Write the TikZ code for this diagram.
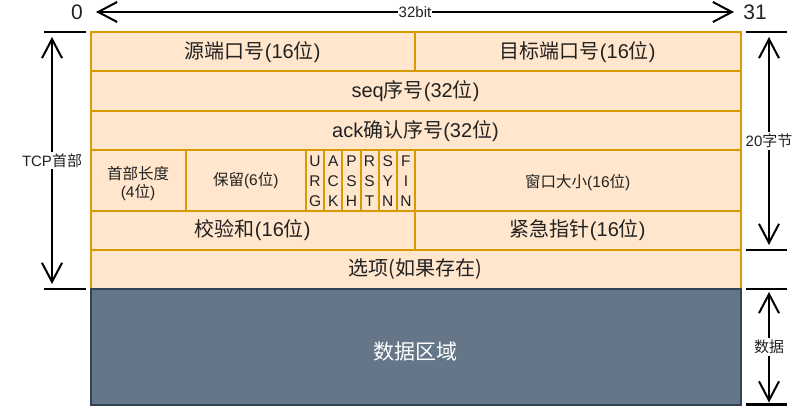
\documentclass[tikz,border=0pt]{standalone}
\usepackage{fontspec}
\setmainfont{Liberation Sans}
\newfontfamily\cjk{Noto Sans CJK SC}
\usetikzlibrary{arrows.meta}
\newcommand\zh[1]{{\cjk #1}}
\newcommand\lowerby[2]{\raisebox{-#1}[\height][\depth]{#2}}
\definecolor{ofill}{HTML}{FFE6CC}
\definecolor{ostroke}{HTML}{D79B00}
\definecolor{dfill}{HTML}{647687}
\definecolor{dstroke}{HTML}{314354}
\definecolor{txt}{HTML}{222222}
\begin{document}
\begin{tikzpicture}[x=1pt,y=-1pt,
  cell/.style={draw=ostroke, fill=ofill, line width=2pt, anchor=north west,
    inner sep=0pt, outer sep=0pt, text=txt, align=center,
    font=\fontsize{20}{24}\selectfont},
  small/.style={font=\fontsize{15.5}{18}\selectfont},
  flag/.style={cell, minimum width=18.17pt, minimum height=60.5pt,
    font=\fontsize{15.5}{20}\selectfont},
  datacell/.style={draw=dstroke, fill=dfill, line width=2pt, anchor=north west,
    inner sep=0pt, outer sep=0pt, text=white, font=\fontsize{21}{24}\selectfont},
  tick/.style={line width=2.5pt, black},
  dim/.style={line width=2pt, black, {Straight Barb[length=19pt,width=20pt,line width=2pt]}-{Straight Barb[length=19pt,width=20pt,line width=2pt]},
    shorten <=5pt, shorten >=5pt},
  dimlbl/.style={fill=white, inner sep=2pt, text=txt, font=\fontsize{15}{18}\selectfont},
  endlbl/.style={text=txt, inner sep=0pt, font=\fontsize{21}{24}\selectfont}
]
\useasboundingbox (0,0) rectangle (808,414);

% row 1
\node[cell, minimum width=324.5pt, minimum height=39.5pt] (src) at (90.5,32) {\zh{源端口号}(16\zh{位})};
\node[cell, minimum width=325.5pt, minimum height=39.5pt] (dst) at (415,32) {\zh{目标端口号}(16\zh{位})};
% row 2, 3
\node[cell, minimum width=650pt, minimum height=39.5pt] (seq) at (90.5,71.5) {seq\zh{序号}(32\zh{位})};
\node[cell, minimum width=650pt, minimum height=39.5pt] (ack) at (90.5,111) {ack\zh{确认序号}(32\zh{位})};
% row 4
\node[cell, small, minimum width=95pt, minimum height=60.5pt] (hlen) at (90.5,150.5) {\lowerby{3pt}{\shortstack{\zh{首部长度}\\[1pt](4\zh{位})}}};
\node[cell, small, minimum width=120.5pt, minimum height=60.5pt] (rsv) at (185.5,150.5) {\zh{保留}(6\zh{位})};
\node[flag] (furg) at (306,150.5) {U\\R\\G};
\node[flag] (fack) at (324.17,150.5) {A\\C\\K};
\node[flag] (fpsh) at (342.33,150.5) {P\\S\\H};
\node[flag] (frst) at (360.5,150.5) {R\\S\\T};
\node[flag] (fsyn) at (378.67,150.5) {S\\Y\\N};
\node[flag] (ffin) at (396.83,150.5) {F\\I\\N};
\node[cell, small, minimum width=325.5pt, minimum height=60.5pt] (win) at (415,150.5) {\lowerby{2pt}{\zh{窗口大小}(16\zh{位})}};
% row 5
\node[cell, minimum width=324.5pt, minimum height=39pt] (cks) at (90.5,211) {\zh{校验和}(16\zh{位})};
\node[cell, minimum width=325.5pt, minimum height=39pt] (urp) at (415,211) {\zh{紧急指针}(16\zh{位})};
% row 6
\node[cell, minimum width=650pt, minimum height=39pt] (opt) at (90.5,250) {\zh{选项(如果存在)}};
% data
\node[datacell, minimum width=650pt, minimum height=116pt] (data) at (90.5,289) {\lowerby{5pt}{\zh{数据区域}}};

% top dimension
\node[endlbl] (n0) at (77,12) {0};
\node[endlbl] (n31) at (755,12) {31};
\coordinate (t0) at (91,12);
\coordinate (t31) at (739,12);
\draw[dim] (t0) -- node[dimlbl, inner sep=1pt] {32bit} (t31);

% left dimension
\draw[tick] (44,32) -- (86,32);
\draw[tick] (44,289) -- (86,289);
\coordinate (l0) at (52,32);
\coordinate (l1) at (52,289);
\draw[dim] (l0) -- node[dimlbl] {TCP\zh{首部}} (l1);

% right dimensions
\draw[tick] (746,32) -- (787,32);
\draw[tick] (746,250) -- (787,250);
\draw[tick] (746,289) -- (787,289);
\draw[tick] (746,404.5) -- (787,404.5);
\coordinate (r0) at (769,32);
\coordinate (r1) at (769,250);
\coordinate (r2) at (769,289);
\coordinate (r3) at (769,404.5);
\draw[dim] (r0) -- node[dimlbl] {20\zh{字节}} (r1);
\draw[dim, shorten <=3pt, shorten >=2pt] (r2) -- node[dimlbl] {\zh{数据}} (r3);
\end{tikzpicture}
\end{document}
